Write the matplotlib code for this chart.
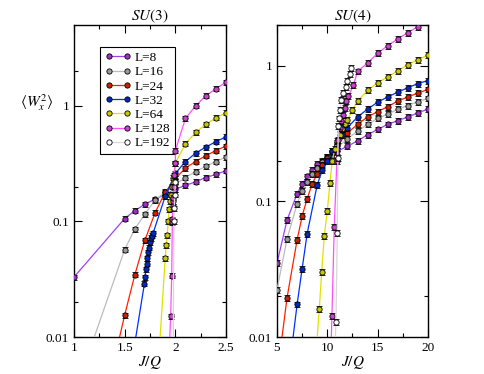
import matplotlib
matplotlib.use("Agg")
import matplotlib.pyplot as plt
from matplotlib.lines import Line2D
from matplotlib.ticker import FixedLocator, MultipleLocator, NullFormatter

plt.rcParams['font.family'] = ['Liberation Serif', 'DejaVu Serif']
plt.rcParams['mathtext.fontset'] = 'stix'

labels = ["L=8", "L=16", "L=24", "L=32", "L=64", "L=128", "L=192"]
line_colors = ['#a040ff', '#bcbcbc', '#ff2000', '#0030ff', '#e0e000', '#ff50ff', '#d8d8d8']
face_colors = ['#a030c0', '#9a9a9a', '#d02000', '#0028c8', '#c8c800', '#d040d0', 'white']

# SU(3) panel
su3_x = [
    [1.0, 1.5, 1.6, 1.7, 1.8, 1.9, 2.0, 2.1, 2.2, 2.3, 2.4, 2.5],
    [1.5, 1.6, 1.7, 1.8, 1.9, 2.0, 2.1, 2.2, 2.3, 2.4, 2.5],
    [1.5, 1.6, 1.7, 1.8, 1.9, 2.0, 2.1, 2.2, 2.3, 2.4, 2.5],
    [1.695, 1.70, 1.71, 1.72, 1.725, 1.73, 1.74, 1.75, 1.76, 1.77, 1.78, 1.9, 2.0, 2.1, 2.2, 2.3, 2.4, 2.5],
    [1.90, 1.91, 1.92, 1.93, 1.94, 1.95, 1.96, 1.97, 1.98, 2.0, 2.1, 2.2, 2.3, 2.4, 2.5],
    [1.954, 1.964, 1.97, 1.97, 1.975, 1.975, 1.98, 1.985, 1.99, 2.0, 2.0, 2.1, 2.2, 2.3, 2.4, 2.5],
    [1.985, 1.99, 1.995, 2.0],
]
su3_y = [
    [0.033, 0.106, 0.124, 0.141, 0.156, 0.171, 0.19, 0.205, 0.22, 0.24, 0.255, 0.275],
    [0.057, 0.086, 0.116, 0.153, 0.18, 0.21, 0.24, 0.27, 0.3, 0.33, 0.36],
    [0.0155, 0.0345, 0.069, 0.119, 0.179, 0.235, 0.29, 0.33, 0.37, 0.41, 0.45],
    [0.029, 0.033, 0.0386, 0.043, 0.048, 0.054, 0.059, 0.066, 0.072, 0.075, 0.079, 0.165, 0.26, 0.33, 0.39, 0.44, 0.49, 0.54],
    [0.048, 0.062, 0.076, 0.1, 0.127, 0.15, 0.17, 0.2, 0.24, 0.32, 0.47, 0.59, 0.69, 0.79, 0.87],
    [0.0152, 0.034, 0.098, 0.104, 0.135, 0.15, 0.16, 0.2, 0.25, 0.32, 0.41, 0.78, 1.0, 1.22, 1.41, 1.6],
    [0.1, 0.13, 0.17, 0.22],
]
# where the curves reach the bottom of the axis
su3_tail = [None, 1.2, 1.45, 1.61, 1.85, 1.945, 1.98]

# SU(4) panel
su4_x = [
    [5, 6, 7, 7.5, 8, 8.5, 9, 9.5, 10, 10.5, 11, 12, 13, 14, 15, 16, 17, 18, 19, 20],
    [5, 6, 7, 7.5, 8, 8.5, 9, 9.5, 10, 10.5, 11, 12, 13, 14, 15, 16, 17, 18, 19, 20],
    [6, 7, 7.5, 8, 8.5, 9, 9.5, 10, 10.5, 11, 12, 13, 14, 15, 16, 17, 18, 19, 20],
    [7, 7.5, 8, 9, 9.5, 10, 10.5, 11, 11.5, 12, 13, 14, 15, 16, 17, 18, 19, 20],
    [9.2, 9.44, 9.7, 10.0, 10.26, 10.5, 10.75, 11.0, 11.25, 11.5, 11.75, 12.0, 12.5, 13, 14, 15, 16, 17, 18, 19, 20],
    [10.46, 10.69, 10.95, 11.1, 11.25, 11.4, 11.6, 11.75, 11.9, 12.1, 12.6, 13, 14, 15, 16, 17, 18, 19],
    [10.86, 10.99, 11.05, 11.1, 11.15, 11.25, 11.4, 11.6, 11.85, 11.95, 12.25, 12.4],
]
su4_y = [
    [0.035, 0.073, 0.114, 0.134, 0.153, 0.172, 0.188, 0.2, 0.213, 0.225, 0.235, 0.255, 0.28, 0.31, 0.34, 0.37, 0.395, 0.42, 0.45, 0.48],
    [0.0223, 0.053, 0.096, 0.119, 0.14, 0.16, 0.178, 0.196, 0.213, 0.23, 0.25, 0.29, 0.33, 0.37, 0.41, 0.44, 0.48, 0.51, 0.545, 0.575],
    [0.0195, 0.052, 0.078, 0.105, 0.135, 0.16, 0.185, 0.21, 0.235, 0.26, 0.32, 0.37, 0.42, 0.46, 0.5, 0.55, 0.59, 0.63, 0.67],
    [0.0174, 0.032, 0.058, 0.133, 0.17, 0.2, 0.235, 0.27, 0.31, 0.35, 0.42, 0.48, 0.54, 0.59, 0.64, 0.69, 0.74, 0.78],
    [0.016, 0.03, 0.056, 0.085, 0.137, 0.2, 0.245, 0.28, 0.31, 0.34, 0.37, 0.4, 0.47, 0.55, 0.66, 0.75, 0.83, 0.92, 1.02, 1.11, 1.2],
    [0.0144, 0.065, 0.2, 0.285, 0.35, 0.39, 0.435, 0.49, 0.55, 0.6, 0.72, 0.91, 1.05, 1.24, 1.41, 1.58, 1.76, 1.95],
    [0.013, 0.059, 0.21, 0.36, 0.41, 0.47, 0.56, 0.63, 0.7, 0.78, 0.87, 0.96],
]
su4_tail = [None, None, 5.5, 6.6, 9.0, 10.4, 10.8]

rel_err = 0.05

fig = plt.figure(figsize=(4.85, 3.74), dpi=100)
ax1 = fig.add_axes([0.1526, 0.0989, 0.3134, 0.834])
ax2 = fig.add_axes([0.5711, 0.0989, 0.3113, 0.834])


def draw(ax, xs, ys, tails, ymin):
    for i in range(len(labels)):
        lx = list(xs[i])
        ly = list(ys[i])
        if tails[i] is not None:
            lx = [tails[i]] + lx
            ly = [ymin] + ly
        ax.plot(lx, ly, color=line_colors[i], lw=0.9, zorder=2 + i)
        err = [v * rel_err for v in ys[i]]
        ax.errorbar(xs[i], ys[i], yerr=err, fmt='o', ms=3.8, mfc=face_colors[i], mec='k',
                    mew=0.6, ecolor='k', elinewidth=0.6, capsize=2, capthick=0.6, zorder=2.5 + i)


draw(ax1, su3_x, su3_y, su3_tail, 0.01)
draw(ax2, su4_x, su4_y, su4_tail, 0.01)

for ax in (ax1, ax2):
    ax.set_yscale('log')
    ax.tick_params(which='both', direction='in', top=True, right=True, labelsize=9.5)
    ax.tick_params(which='major', length=6, width=0.8)
    ax.tick_params(which='minor', length=3, width=0.8)
    ax.yaxis.set_major_locator(FixedLocator([0.01, 0.1, 1]))
    ax.yaxis.set_minor_locator(FixedLocator([0.02, 0.2, 2]))
    ax.yaxis.set_minor_formatter(NullFormatter())
    ax.set_yticklabels(['0.01', '0.1', '1'])
    for s in ax.spines.values():
        s.set_linewidth(1.0)
    ax.set_xlabel(r'$J/Q$', fontsize=11, labelpad=0)

ax1.set_xlim(1, 2.5)
ax1.set_ylim(0.01, 5)
ax1.set_xticks([1, 1.5, 2, 2.5])
ax1.set_xticklabels(['1', '1.5', '2', '2.5'])
ax1.xaxis.set_minor_locator(MultipleLocator(0.25))
ax1.set_title(r'$SU(3)$', fontsize=11, pad=3)

ax2.set_xlim(5, 20)
ax2.set_ylim(0.01, 2)
ax2.set_xticks([5, 10, 15, 20])
ax2.xaxis.set_minor_locator(MultipleLocator(2.5))
ax2.set_title(r'$SU(4)$', fontsize=11, pad=3)

ax1.text(-0.245, 0.75, r'$\langle W_x^2\rangle$', transform=ax1.transAxes,
         ha='center', va='center', fontsize=11)

handles = [Line2D([0], [0], color=line_colors[i], lw=0.9, marker='o', ms=3.8,
                  mfc=face_colors[i], mec='k', mew=0.6) for i in range(len(labels))]
leg = ax1.legend(handles, labels, loc='upper left', bbox_to_anchor=(0.171, 0.929),
                 borderaxespad=0, fontsize=9.5, numpoints=2, handlelength=2.0,
                 handletextpad=0.3, labelspacing=0.15, borderpad=0.35,
                 fancybox=False, framealpha=1, edgecolor='k')
leg.get_frame().set_linewidth(0.8)

fig.savefig('out.png', dpi=100)
